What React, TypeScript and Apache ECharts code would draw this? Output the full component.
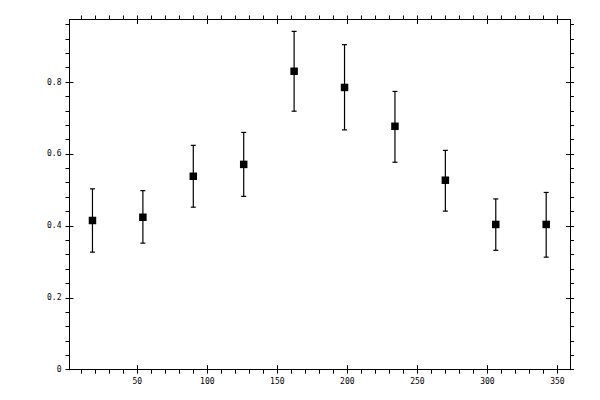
import React, { useEffect, useRef } from "react";
import * as echarts from "echarts";

const xValues = [18, 54, 90, 126, 162, 198, 234, 270, 306, 342];
const yValues = [0.415, 0.424, 0.538, 0.571, 0.830, 0.785, 0.677, 0.527, 0.404, 0.404];
const yUpper = [0.503, 0.498, 0.624, 0.660, 0.941, 0.904, 0.774, 0.610, 0.475, 0.493];
const yLower = [0.327, 0.352, 0.452, 0.482, 0.719, 0.667, 0.577, 0.441, 0.332, 0.313];

const xMajorTicks = [50, 100, 150, 200, 250, 300, 350];
const xAllTicks = [
  10, 20, 30, 40, 50, 60, 70, 80, 90, 100, 110, 120, 130, 140, 150, 160, 170, 180,
  190, 200, 210, 220, 230, 240, 250, 260, 270, 280, 290, 300, 310, 320, 330, 340, 350,
];
const yMajorTicks = [0, 0.2, 0.4, 0.6, 0.8];
const yAllTicks = [
  0, 0.04, 0.08, 0.12, 0.16, 0.2, 0.24, 0.28, 0.32, 0.36, 0.4, 0.44, 0.48, 0.52, 0.56,
  0.6, 0.64, 0.68, 0.72, 0.76, 0.8, 0.84, 0.88, 0.92, 0.96,
];

const X_MIN = 1.6;
const X_MAX = 359;
const Y_MIN = 0;
const Y_MAX = 0.974;

const black = "#000";
const labelFont = {
  color: black,
  fontFamily: "DejaVu Sans Mono",
  fontSize: 8,
};

function makeAxis(
  kind: "x" | "y",
  position: string,
  tickValues: number[],
  inside: boolean,
  length: number,
  labelValues: number[] | null
) {
  return {
    type: "value",
    position,
    min: kind === "x" ? X_MIN : Y_MIN,
    max: kind === "x" ? X_MAX : Y_MAX,
    axisLine: { show: true, onZero: false, lineStyle: { color: black, width: 1 } },
    splitLine: { show: false },
    axisTick: {
      show: true,
      inside,
      length,
      customValues: tickValues,
      lineStyle: { color: black, width: 1 },
    },
    axisLabel: labelValues
      ? { show: true, customValues: labelValues, margin: 8, ...labelFont }
      : { show: false },
    axisPointer: { show: false },
  };
}

export default function App() {
  const ref = useRef<HTMLDivElement>(null);
  useEffect(() => {
    if (!ref.current) return;
    const chart = echarts.init(ref.current, null, { renderer: "svg" });
    const points = xValues.map((x, i) => [x, yValues[i]]);
    const bars = xValues.map((x, i) => [x, yLower[i], yUpper[i]]);
    chart.setOption({
      animation: false,
      backgroundColor: "#fff",
      grid: { left: 69.5, right: 30, top: 19.5, bottom: 30.3, containLabel: false },
      xAxis: [
        makeAxis("x", "bottom", xAllTicks, false, 4, xMajorTicks),
        makeAxis("x", "bottom", xMajorTicks, true, 4.5, null),
        makeAxis("x", "top", xAllTicks, false, 4, null),
        makeAxis("x", "top", xMajorTicks, true, 4.5, null),
      ],
      yAxis: [
        makeAxis("y", "left", yAllTicks, false, 4, yMajorTicks),
        makeAxis("y", "left", yMajorTicks, true, 4, null),
        makeAxis("y", "right", yAllTicks, false, 4, null),
        makeAxis("y", "right", yMajorTicks, true, 4, null),
      ],
      series: [
        {
          type: "custom",
          xAxisIndex: 0,
          yAxisIndex: 0,
          data: bars,
          renderItem: (params: any, api: any) => {
            const x = api.value(0);
            const lo = api.coord([x, api.value(1)]);
            const hi = api.coord([x, api.value(2)]);
            const half = 2.5;
            const style = { stroke: black, lineWidth: 1.2 };
            return {
              type: "group",
              children: [
                { type: "line", shape: { x1: lo[0], y1: lo[1], x2: hi[0], y2: hi[1] }, style },
                { type: "line", shape: { x1: hi[0] - half, y1: hi[1], x2: hi[0] + half, y2: hi[1] }, style },
                { type: "line", shape: { x1: lo[0] - half, y1: lo[1], x2: lo[0] + half, y2: lo[1] }, style },
              ],
            };
          },
          z: 2,
        },
        {
          type: "scatter",
          xAxisIndex: 0,
          yAxisIndex: 0,
          data: points,
          symbol: "rect",
          symbolSize: 7.5,
          itemStyle: { color: black, opacity: 1 },
          emphasis: { disabled: true },
          z: 3,
        },
      ],
    });
    return () => chart.dispose();
  }, []);
  return (
    <div
      ref={ref}
      style={{ position: "absolute", left: 0, top: 0, width: 600, height: 400, background: "#fff" }}
    />
  );
}
